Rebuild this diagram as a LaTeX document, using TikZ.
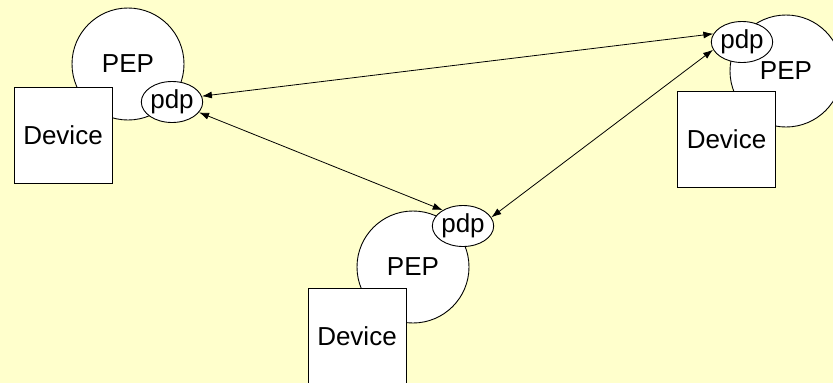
\documentclass[tikz,border=0pt]{standalone}
\usepackage{fontspec}
\setmainfont{Liberation Sans}
\usetikzlibrary{shapes.geometric,arrows.meta}
\definecolor{bgyellow}{HTML}{FFFFCC}
\tikzset{
  pep/.style={circle,draw=black,fill=white,line width=0.9pt,minimum size=112pt,inner sep=0pt,font=\fontsize{26}{30}\selectfont},
  devbox/.style={rectangle,draw=black,fill=white,line width=0.9pt,minimum width=98pt,minimum height=96pt,inner sep=0pt,font=\fontsize{26}{30}\selectfont},
  pdpnode/.style={ellipse,draw=black,fill=white,line width=0.9pt,minimum width=59pt,minimum height=41pt,inner sep=0pt,font=\fontsize{26}{30}\selectfont},
  link/.style={line width=0.8pt,{Latex[length=10pt,width=7pt]}-{Latex[length=10pt,width=7pt]}}
}
\begin{document}
\begin{tikzpicture}[x=1pt,y=-1pt]
\useasboundingbox (0,0) rectangle (833,383);
\fill[bgyellow] (0,0) rectangle (833,383);
\clip (0,0) rectangle (833,383);
% left cluster
\node[pep] (pepA) at (128,64) {PEP};
\node[devbox] (devA) at (63,135) {Device};
\node[pdpnode] (pdpA) at (172,102) {pdp};
% right cluster
\node[pep] (pepB) at (786,71) {PEP};
\node[devbox] (devB) at (726.5,139.5) {Device};
\node[pdpnode] (pdpB) at (742,42) {pdp};
% bottom cluster
\node[pep] (pepC) at (413,267) {PEP};
\node[devbox] (devC) at (357,336) {Device};
\node[pdpnode] (pdpC) at (463,226) {pdp};
% connectors
\draw[link] (pdpA.11) -- (pdpB.164);
\draw[link] (pdpA.-21) -- (pdpC.142);
\draw[link] (pdpC.17) -- (pdpB.195);
\end{tikzpicture}
\end{document}
